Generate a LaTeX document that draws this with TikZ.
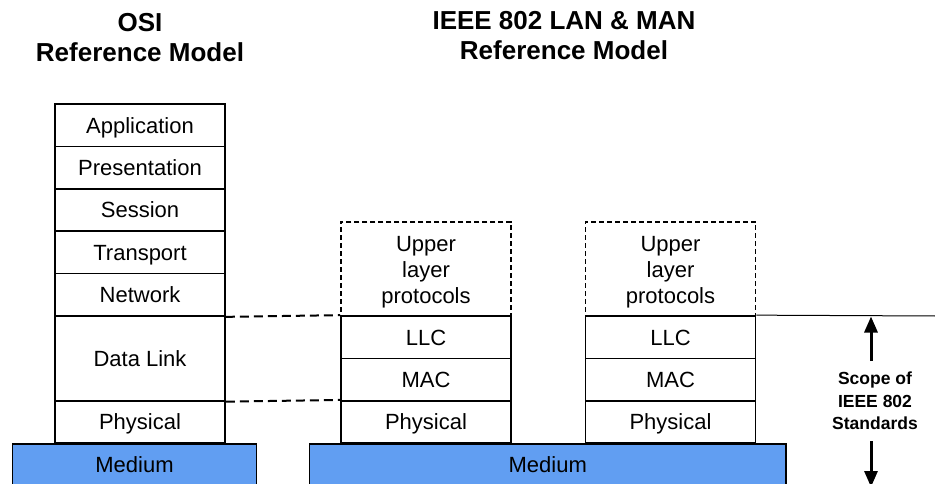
\documentclass[tikz,border=0pt]{standalone}
\usepackage{fontspec}
\setmainfont{Liberation Sans}
\usetikzlibrary{arrows.meta}
\definecolor{mediumblue}{RGB}{97,158,242}
\begin{document}
\begin{tikzpicture}[x=1pt,y=-1pt,
  layerfont/.style={font=\fontsize{22}{26}\selectfont},
  layer/.style={layerfont,draw,line width=1.7pt,minimum width=170pt,minimum height=42.4pt,inner sep=0pt,text height=15.75pt,text depth=0pt},
  upper/.style={layerfont,draw,dash pattern=on 5pt off 3pt,line width=1.7pt,minimum width=170pt,minimum height=94.3pt,inner sep=0pt,align=center,text height=69.8pt,text depth=0pt},
  medium/.style={draw,line width=1.3pt,fill=mediumblue,minimum height=50pt,inner sep=0pt,anchor=north},
  mediumlabel/.style={layerfont,inner sep=0pt,text height=15.75pt,text depth=0pt},
  title/.style={anchor=base,font=\bfseries\fontsize{26}{30}\selectfont},
  tie/.style={dash pattern=on 9pt off 5pt,line width=2pt},
  scopearrow/.style={line width=3pt,-{Triangle[width=13pt,length=16pt]}},
  scopelabel/.style={align=center,font=\bfseries\fontsize{17.5}{22.5}\selectfont}]
\useasboundingbox (0,0) rectangle (935,484);
\clip (0,0) rectangle (935,484);

% titles
\node[title] (osiT1) at (140,32) {OSI};
\node[title] (osiT2) at (140,62) {Reference Model};
\node[title] (ieeeT1) at (564,29.5) {IEEE 802 LAN \& MAN};
\node[title] (ieeeT2) at (564,60) {Reference Model};

% media
\node[medium,minimum width=244pt] (medA) at (134.5,443.2) {};
\node[mediumlabel] (medAtext) at (134.5,464.7) {Medium};
\node[medium,minimum width=476.5pt] (medB) at (547.75,443.2) {};
\node[mediumlabel] (medBtext) at (547.75,464.7) {Medium};

% OSI stack
\node[layer] (app)   at (140,125.2) {Application};
\node[layer] (pres)  at (140,167.6) {Presentation};
\node[layer] (sess)  at (140,210.0) {Session};
\node[layer] (trans) at (140,252.4) {Transport};
\node[layer] (net)   at (140,294.8) {Network};
\node[layer,minimum height=84.8pt] (dl) at (140,358.4) {Data Link};
\node[layer] (phy)   at (140,422.0) {Physical};

% IEEE 802 stacks
\node[upper] (ulpA) at (426,268.8) {Upper\\layer\\protocols};
\node[layer] (llcA) at (426,337.2) {LLC};
\node[layer] (macA) at (426,379.6) {MAC};
\node[layer] (phyA) at (426,422.0) {Physical};

\node[upper] (ulpB) at (670.5,268.8) {Upper\\layer\\protocols};
\node[layer] (llcB) at (670.5,337.2) {LLC};
\node[layer] (macB) at (670.5,379.6) {MAC};
\node[layer] (phyB) at (670.5,422.0) {Physical};

% correspondence between the models
\draw[tie] (net.south east) -- (llcA.north west);
\draw[tie] (dl.south east) -- (phyA.north west);

% scope of the standards
\coordinate (scopeEnd) at (935,316);
\draw[line width=1pt] (llcB.north east) -- (scopeEnd);
\node[scopelabel] (scope) at (875,401) {Scope of\\IEEE 802\\Standards};
\coordinate (upTip) at (871,316.5);
\coordinate (downTip) at (871,487);
\draw[scopearrow] (871,361) -- (upTip);
\draw[scopearrow] (871,441) -- (downTip);
\end{tikzpicture}
\end{document}
